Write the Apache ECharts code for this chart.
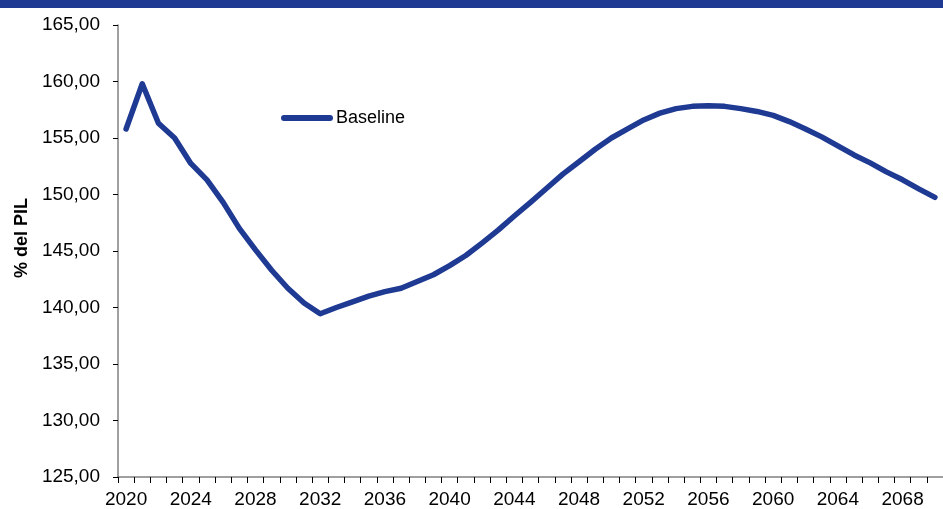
<!DOCTYPE html>
<html>
<head>
<meta charset="utf-8">
<script src="https://cdn.jsdelivr.net/npm/echarts@6/dist/echarts.min.js"></script>
<style>
  html, body { margin: 0; padding: 0; background: #fff; }
  #chart { width: 943px; height: 509px; }
</style>
</head>
<body>
<div id="chart"></div>
<script>
var years = [];
for (var y = 2020; y <= 2070; y++) { years.push(String(y)); }

// debito/PIL, scenario Baseline
var baseline = [
    155.8, 159.8, 156.3, 155.0, 152.75, 151.3, 149.3, 147.0, 145.1, 143.3,
    141.7, 140.4, 139.45, 140.0, 140.5, 141.0, 141.4, 141.7, 142.3, 142.9,
    143.7, 144.6, 145.7, 146.85, 148.1, 149.3, 150.55, 151.8, 152.9, 154.0,
    155.0, 155.8, 156.6, 157.2, 157.6, 157.8, 157.85, 157.8, 157.6, 157.35,
    157.0, 156.45, 155.8, 155.1, 154.3, 153.5, 152.8, 152.0, 151.3, 150.5,
    149.75
];

var blu = '#1f3a93';
var font = '"Liberation Sans", Arial, sans-serif';

var myChart = echarts.init(document.getElementById('chart'));
myChart.setOption({
    backgroundColor: '#fff',
    animation: false,
    textStyle: { fontFamily: font },
    grid: { left: 118, top: 25, bottom: 30, right: -6 },
    graphic: [
        { type: 'rect', left: 0, top: 0, shape: { width: 943, height: 8 }, style: { fill: blu } },
        {
            type: 'text', x: 22, y: 238, rotation: Math.PI / 2,
            style: {
                text: '% del PIL', font: 'bold 18px ' + font, fill: '#000',
                align: 'center', verticalAlign: 'middle'
            }
        }
    ],
    legend: {
        left: 281, top: 109, padding: 0,
        itemWidth: 52, itemHeight: 6,
        icon: 'path://M3,0 H49 A3,3 0 0 1 49,6 H3 A3,3 0 0 1 3,0 Z',
        itemStyle: { color: blu },
        textStyle: { fontSize: 18, color: '#000', fontFamily: font, padding: [0, 0, 0, -2] },
        data: ['Baseline']
    },
    xAxis: {
        type: 'category',
        data: years,
        boundaryGap: true,
        axisLine: { lineStyle: { color: '#808080', width: 1.5 } },
        axisTick: { show: true, interval: 0, length: 6, lineStyle: { color: '#000' } },
        axisLabel: { interval: 3, fontSize: 19, color: '#000', margin: 13 }
    },
    yAxis: {
        type: 'value',
        min: 125, max: 165, interval: 5,
        splitLine: { show: false },
        axisLine: { show: true, lineStyle: { color: '#808080', width: 1.5 } },
        axisTick: { show: true, length: 5, lineStyle: { color: '#000' } },
        axisLabel: {
            fontSize: 19, color: '#000', margin: 18,
            formatter: function (v) { return v.toFixed(2).replace('.', ','); }
        }
    },
    series: [{
        name: 'Baseline',
        type: 'line',
        data: baseline,
        symbol: 'none',
        smooth: false,
        lineStyle: { color: blu, width: 5.5, cap: 'round', join: 'round' },
        itemStyle: { color: blu }
    }]
});
</script>
</body>
</html>
